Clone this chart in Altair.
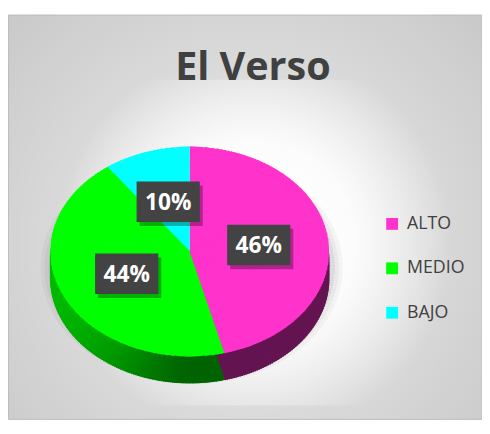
import math
import numpy as np
import pandas as pd
import altair as alt

# ---- data ----
categories = ["ALTO", "MEDIO", "BAJO"]
values = [46, 44, 10]
label_texts = ["46%", "44%", "10%"]
title_text = "El Verso"

# ---- styles ----
top_colors = ["#ff33cc", "#00ff00", "#00ffff"]
W, H = 480, 414
CX, CY = 184, 244
A, B = 141, 106
DEPTH = 27
FONT = "Open Sans"
TWO_PI = 2 * math.pi


def ell_r(t, a=A, b=B):
    return a * b / math.sqrt((b * math.sin(t)) ** 2 + (a * math.cos(t)) ** 2)


def tilt(theta):
    """angle of a circle angle once the pie is tilted into an ellipse"""
    return math.atan2(A * math.sin(theta), B * math.cos(theta)) % TWO_PI


total = float(sum(values))
circ_bounds = np.concatenate([[0.0], np.cumsum(values) / total * TWO_PI])
bounds = [0.0] + [tilt(b) for b in circ_bounds[1:-1]] + [TWO_PI]

# top face: elliptic slices built from nested circular arcs (radius levels)
top_rows = []
levels = np.arange(B, A + 0.01, 0.5)
for rho in levels:
    s2 = A * A * (1 - (B * B) / (rho * rho)) / (A * A - B * B)
    phi = math.asin(min(1.0, math.sqrt(max(0.0, s2))))
    if phi < 1e-9:
        ivs = [(0.0, TWO_PI)]
    else:
        ivs = [(phi, math.pi - phi), (math.pi + phi, TWO_PI - phi)]
    for k, cat in enumerate(categories):
        s, e = bounds[k], bounds[k + 1]
        for lo, hi in ivs:
            a0, a1 = max(lo, s), min(hi, e)
            if a1 - a0 > 1e-6:
                top_rows.append({"cat": cat, "t0": a0, "t1": a1, "r": rho + 0.5})
top_df = pd.DataFrame(top_rows)


def side_color(cat, t):
    if cat == "MEDIO":
        k = max(0.0, -math.sin(t)) ** 1.4
        g = int(100 + 85 * k)
        return f"rgb(0,{g},0)"
    if cat == "ALTO":
        return "rgb(100,20,80)"
    return "rgb(0,150,150)"


side_rows = []
for k, cat in enumerate(categories):
    s, e = bounds[k], bounds[k + 1]
    n = max(2, int(math.ceil((e - s) / math.radians(1.0))))
    step = (e - s) / n
    for i in range(n):
        t0 = s + i * step
        tm = t0 + step / 2
        if not (math.radians(60) <= tm <= math.radians(300)):
            continue
        t1 = min(e, t0 + step * 1.6)
        side_rows.append({"t0": t0, "t1": t1, "r": ell_r(tm), "col": side_color(cat, tm)})
side_df = pd.DataFrame(side_rows)


def shadow_df(grow):
    n = 240
    rows = []
    for i in range(n):
        t0 = i * TWO_PI / n
        t1 = t0 + TWO_PI / n
        tm = t0 + math.pi / n
        rows.append({"t0": t0, "t1": t1, "r": ell_r(tm, A + grow, B + grow)})
    return pd.DataFrame(rows)


# label positions at half radius on each slice's mid angle (on the tilted circle)
lab_rows = []
for k, cat in enumerate(categories):
    mid = (circ_bounds[k] + circ_bounds[k + 1]) / 2
    lab_rows.append({"cat": cat, "txt": label_texts[k],
                     "lx": CX + 0.5 * A * math.sin(mid),
                     "ly": CY - 0.5 * B * math.cos(mid)})
lab_df = pd.DataFrame(lab_rows)

one = pd.DataFrame({"a": [0]})
frame = alt.Chart(one).mark_rect(
    fill={"gradient": "radial",
          "stops": [{"offset": 0, "color": "#eeeeee"},
                    {"offset": 1, "color": "#c6c6c6"}],
          "x1": 0.5, "y1": 0.55, "r1": 0, "x2": 0.5, "y2": 0.55, "r2": 0.75},
    stroke="#bdbdbd", strokeWidth=1,
).encode(x=alt.value(0.5), x2=alt.value(W), y=alt.value(4.5), y2=alt.value(H))

glow = alt.Chart(one).mark_rect(
    fill={"gradient": "radial",
          "stops": [{"offset": 0, "color": "rgba(255,255,255,1)"},
                    {"offset": 0.5, "color": "rgba(255,255,255,0.9)"},
                    {"offset": 1, "color": "rgba(255,255,255,0)"}],
          "x1": 0.5, "y1": 0.5, "r1": 0, "x2": 0.5, "y2": 0.5, "r2": 0.5},
    strokeWidth=0,
).encode(x=alt.value(50), x2=alt.value(450), y=alt.value(70), y2=alt.value(400))

title = alt.Chart(pd.DataFrame({"t": [title_text]})).mark_text(
    font=FONT, fontSize=40, fontWeight="bold", color="#404040",
    align="center", baseline="alphabetic",
).encode(x=alt.value(248), y=alt.value(70), text="t:N")


def shadow_layer(grow, op):
    return alt.Chart(shadow_df(grow)).mark_arc(
        strokeWidth=0, color="black", opacity=op,
    ).encode(
        theta=alt.Theta("t0:Q", scale=None),
        theta2="t1:Q",
        radius=alt.Radius("r:Q", scale=None),
        x=alt.value(CX + 2),
        y=alt.value(CY + DEPTH / 2 + 3),
    )


shadows = [shadow_layer(g, o) for g, o in [(12, 0.035), (8, 0.045), (4, 0.06)]]


def side_layer(off):
    return alt.Chart(side_df).mark_arc(strokeWidth=1, opacity=1).encode(
        theta=alt.Theta("t0:Q", scale=None),
        theta2="t1:Q",
        radius=alt.Radius("r:Q", scale=None),
        x=alt.value(CX),
        y=alt.value(CY + off),
        fill=alt.Fill("col:N", scale=None),
        stroke=alt.Stroke("col:N", scale=None),
    )


sides = [side_layer(o) for o in (DEPTH / 3, 2 * DEPTH / 3, DEPTH)]

top = alt.Chart(top_df).mark_arc(strokeWidth=0, opacity=1).encode(
    theta=alt.Theta("t0:Q", scale=None),
    theta2="t1:Q",
    radius=alt.Radius("r:Q", scale=None),
    x=alt.value(CX),
    y=alt.value(CY),
    color=alt.Color("cat:N", scale=alt.Scale(domain=categories, range=top_colors),
                    legend=alt.Legend(title=None, orient="none", legendX=380, legendY=207,
                                      symbolType="square", symbolSize=144,
                                      symbolStrokeWidth=0, symbolOpacity=1,
                                      labelFont=FONT,
                                      labelFontSize=18, labelColor="#404040",
                                      rowPadding=27, labelOffset=6, padding=0)),
)

box_path = "M-1,-0.64L1,-0.64L1,0.64L-1,0.64Z"
label_base = alt.Chart(lab_df)
box_shadow = label_base.mark_point(shape=box_path, size=64 * 64, filled=True,
                                   color="#000000", opacity=0.3, xOffset=3, yOffset=4).encode(
    x=alt.X("lx:Q", scale=None), y=alt.Y("ly:Q", scale=None))
box = label_base.mark_point(shape=box_path, size=64 * 64, filled=True,
                            color="#434343", opacity=1).encode(
    x=alt.X("lx:Q", scale=None), y=alt.Y("ly:Q", scale=None))
txt = label_base.mark_text(font=FONT, fontSize=23, fontWeight="bold", color="white",
                           align="center", baseline="middle", dy=1).encode(
    x=alt.X("lx:Q", scale=None), y=alt.Y("ly:Q", scale=None), text="txt:N")

chart = alt.layer(frame, glow, title, *shadows, *sides, top, box_shadow, box, txt).properties(
    width=W, height=H,
    autosize=alt.AutoSizeParams(type="fit", contains="padding"),
    padding=0,
    background="white",
).configure_view(stroke=None)

chart.save("out.html", embed_options={"renderer": "svg", "actions": False})
